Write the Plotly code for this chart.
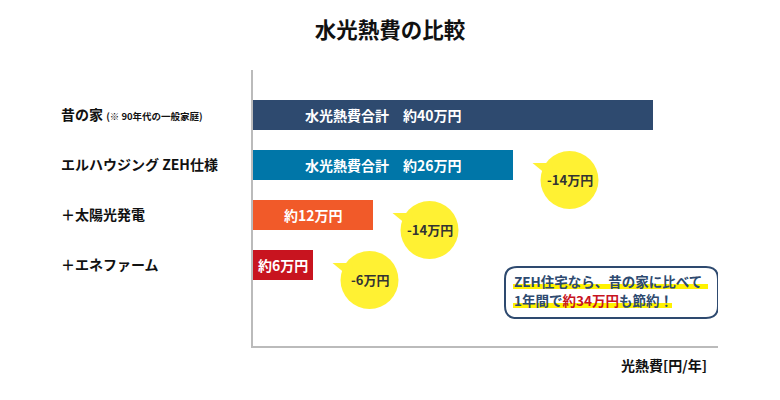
import plotly.graph_objects as go

# ---- data ----
categories = ["昔の家", "エルハウジング ZEH仕様", "＋太陽光発電", "＋エネファーム"]
category_notes = ["(※ 90年代の一般家庭)", "", "", ""]
values = [40, 26, 12, 6]  # 万円 / 年
bar_labels = ["水光熱費合計　約40万円", "水光熱費合計　約26万円", "約12万円", "約6万円"]
savings = ["-14万円", "-14万円", "-6万円"]
title_text = "水光熱費の比較"
axis_title = "光熱費[円/年]"
callout_line1 = "ZEH住宅なら、昔の家に比べて"
callout_line2_a = "1年間で"
callout_line2_b = "約34万円"
callout_line2_c = "も節約！"

bar_colors = ["#2e4a6f", "#0076a8", "#f15a29", "#c8141f"]
NAVY = "#2e4a6f"
YELLOW = "#fff133"
FONT = "Noto Sans CJK JP"

OFF = 8  # page body margin
W, H = 780 - OFF, 400 - OFF
# plot area in page pixels
PX0, PX1, PY0, PY1 = 253, 718, 70, 346
ML, MR, MT, MB = PX0 - OFF, W - (PX1 - OFF), PY0 - OFF, H - (PY1 - OFF)
XR = [0, 46.5]
YR = [4.62, -0.9]
PW, PH = PX1 - PX0, PY1 - PY0
XPX = PW / (XR[1] - XR[0])
YPX = PH / (YR[0] - YR[1])


def px2x(px):
    return XR[0] + (px - PX0) / XPX


def px2y(py):
    return YR[1] + (py - PY0) / YPX


def px2paperx(px):
    return (px - PX0) / PW


def px2papery(py):
    return (PY1 - py) / PH


fig = go.Figure()
fig.add_trace(go.Bar(
    x=values, y=list(range(len(values))), orientation="h",
    marker=dict(color=bar_colors, line=dict(width=0)),
    width=0.6, hoverinfo="skip", showlegend=False,
))

annotations = []
shapes = []

# bar labels
for i, (v, lab) in enumerate(zip(values, bar_labels)):
    lx = min(v, values[1]) / 2
    annotations.append(dict(x=lx, y=i, xref="x", yref="y", text=f"<b>{lab}</b>",
                            showarrow=False, font=dict(family=FONT, size=14, color="white")))

# category labels (left aligned)
for i, (c, n) in enumerate(zip(categories, category_notes)):
    t = f"<b>{c}</b>"
    if n:
        t += f" <span style='font-size:9.5px'><b>{n}</b></span>"
    annotations.append(dict(x=px2paperx(59), y=i - 0.03, xref="paper", yref="y", text=t,
                            xanchor="left", yanchor="middle", showarrow=False,
                            font=dict(family=FONT, size=14, color="#111")))

# saving bubbles
R = 29
for k, s in enumerate(savings):
    i = k + 1
    cx = values[i] + 5.65
    cy = i + 0.3
    rx, ry = R / XPX, R / YPX
    shapes.append(dict(type="circle", xref="x", yref="y", x0=cx - rx, x1=cx + rx,
                       y0=cy - ry, y1=cy + ry, fillcolor=YELLOW, line=dict(width=0), layer="above"))
    pts = [(-37, -17), (-18, -17), (-14, 2)]
    p = "M " + " L ".join(f"{cx + dx / XPX},{cy + dy / YPX}" for dx, dy in pts) + " Z"
    shapes.append(dict(type="path", xref="x", yref="y", path=p, fillcolor=YELLOW,
                       line=dict(width=0), layer="above"))
    annotations.append(dict(x=cx, y=cy - 1 / YPX, xref="x", yref="y", text=f"<b>{s}</b>",
                            showarrow=False, font=dict(family=FONT, size=13, color="#333")))

# callout box
bx0, bx1, by0, by1, rr = 505, 718, 267, 318, 12
x0, x1 = px2x(bx0), px2x(bx1)
y0, y1 = px2y(by0), px2y(by1)
xr_, yr_ = rr / XPX, rr / YPX
path = (f"M {x0 + xr_},{y0} L {x1 - xr_},{y0} Q {x1},{y0} {x1},{y0 + yr_} "
        f"L {x1},{y1 - yr_} Q {x1},{y1} {x1 - xr_},{y1} L {x0 + xr_},{y1} "
        f"Q {x0},{y1} {x0},{y1 - yr_} L {x0},{y0 + yr_} Q {x0},{y0} {x0 + xr_},{y0} Z")
shapes.append(dict(type="path", xref="x", yref="y", path=path, fillcolor="white",
                   line=dict(color=NAVY, width=2), layer="above"))
# highlights
for (hx0, hx1, hy0, hy1) in [(513, 708, 284, 289), (513, 672, 303, 308)]:
    shapes.append(dict(type="rect", xref="x", yref="y", x0=px2x(hx0), x1=px2x(hx1),
                       y0=px2y(hy0), y1=px2y(hy1), fillcolor="#fff200", line=dict(width=0),
                       layer="above"))
annotations.append(dict(x=px2x(512), y=px2y(281), xref="x", yref="y", xanchor="left",
                        text=f"<b>{callout_line1}</b>", showarrow=False,
                        font=dict(family=FONT, size=13.5, color=NAVY)))
annotations.append(dict(x=px2x(512), y=px2y(300), xref="x", yref="y", xanchor="left",
                        text=(f"<b>{callout_line2_a}<span style='color:#c8141f'>{callout_line2_b}</span>"
                              f"{callout_line2_c}</b>"),
                        showarrow=False, font=dict(family=FONT, size=13.5, color=NAVY)))

# axis title
annotations.append(dict(x=px2paperx(709), y=px2papery(365), xref="paper", yref="paper",
                        xanchor="right", yanchor="middle", text=f"<b>{axis_title}</b>",
                        showarrow=False, font=dict(family=FONT, size=14, color="#111")))

fig.update_layout(
    width=W, height=H,
    margin=dict(l=ML, r=MR, t=MT, b=MB, pad=0),
    paper_bgcolor="white", plot_bgcolor="white",
    title=dict(text=f"<b>{title_text}</b>", x=(390 - OFF) / W, xanchor="center",
               y=1 - (30 - OFF) / H, yanchor="middle",
               font=dict(family=FONT, size=21.5, color="#111")),
    xaxis=dict(range=XR, showgrid=False, zeroline=False, showticklabels=False, ticks="",
               showline=True, linecolor="#bbbbbb", linewidth=2, fixedrange=True),
    yaxis=dict(range=YR, showgrid=False, zeroline=False, showticklabels=False, ticks="",
               showline=True, linecolor="#bbbbbb", linewidth=2, fixedrange=True),
    annotations=annotations, shapes=shapes,
    font=dict(family=FONT),
)

fig.write_html("out.html")
